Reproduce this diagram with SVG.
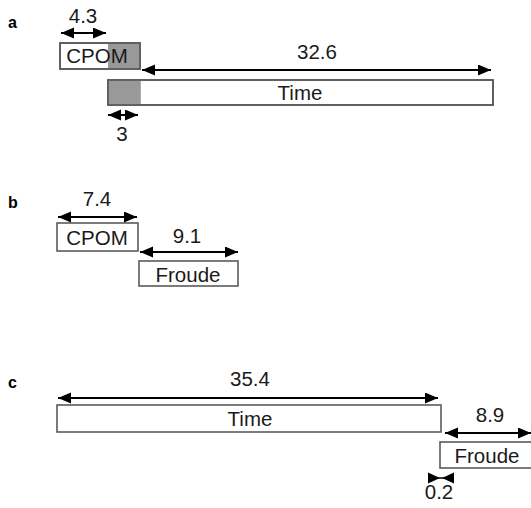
<svg xmlns="http://www.w3.org/2000/svg" width="531" height="508" viewBox="0 0 531 508">
  <style>
    .box { fill: #ffffff; stroke: #5a5a5a; stroke-width: 1.6; }
    .outline { fill: none; stroke: #5a5a5a; stroke-width: 1.6; }
    .shade { fill: #999999; stroke: none; }
    .dim { stroke: #000000; stroke-width: 2; fill: none; marker-start: url(#head); marker-end: url(#head); }
    .lbl { font-family: "Liberation Sans", Arial, sans-serif; font-size: 20.5px; fill: #1a1a1a; text-anchor: middle; }
    .panel { font-family: "Liberation Sans", Arial, sans-serif; font-size: 16px; font-weight: bold; fill: #000000; }
    .tip { fill: #000000; }
  </style>
  <defs>
    <marker id="head" markerUnits="userSpaceOnUse" markerWidth="14" markerHeight="12" refX="13" refY="5.5" orient="auto-start-reverse">
      <path d="M0,0 L13,5.5 L0,11 Z" fill="#000000"/>
    </marker>
  </defs>

  <!-- panel letters -->
  <text class="panel" x="8" y="28">a</text>
  <text class="panel" x="8" y="208">b</text>
  <text class="panel" x="8" y="388">c</text>

  <!-- panel a -->
  <g id="a-cpom">
    <rect class="box" x="60" y="43" width="80" height="26"/>
    <rect class="shade" x="108" y="44" width="31.2" height="24.2"/>
    <rect class="outline" x="60" y="43" width="80" height="26"/>
    <text class="lbl" x="97" y="63">CPOM</text>
  </g>
  <g id="a-time">
    <rect class="box" x="108" y="80" width="385" height="25"/>
    <rect class="shade" x="108.8" y="80.8" width="32" height="23.4"/>
    <rect class="outline" x="108" y="80" width="385" height="25"/>
    <text class="lbl" x="300" y="100">Time</text>
  </g>

  <!-- panel b -->
  <g id="b-cpom">
    <rect class="box" x="57" y="223" width="81" height="28"/>
    <text class="lbl" x="97" y="245">CPOM</text>
  </g>
  <g id="b-froude">
    <rect class="box" x="139" y="261" width="99" height="25"/>
    <text class="lbl" x="188" y="282">Froude</text>
  </g>

  <!-- panel c -->
  <g id="c-time">
    <rect class="box" x="57" y="405" width="384" height="27"/>
    <text class="lbl" x="250" y="426">Time</text>
  </g>
  <g id="c-froude">
    <rect class="box" x="440" y="442" width="93" height="26"/>
    <text class="lbl" x="487" y="463">Froude</text>
  </g>

  <!-- dimension arrows and their values -->
  <g id="connectors">
    <line class="dim" x1="61" y1="33" x2="106" y2="33"/>
    <text class="lbl" x="83" y="23">4.3</text>

    <line class="dim" x1="142" y1="70" x2="491" y2="70"/>
    <text class="lbl" x="317" y="59">32.6</text>

    <line class="dim" x1="108" y1="115" x2="138" y2="115"/>
    <text class="lbl" x="122" y="141">3</text>

    <line class="dim" x1="58" y1="217" x2="137" y2="217"/>
    <text class="lbl" x="97" y="206">7.4</text>

    <line class="dim" x1="140" y1="252" x2="238" y2="252"/>
    <text class="lbl" x="187" y="243">9.1</text>

    <line class="dim" x1="58" y1="398" x2="438" y2="398"/>
    <text class="lbl" x="250" y="386">35.4</text>

    <line class="dim" x1="445" y1="433" x2="531" y2="433"/>
    <text class="lbl" x="490" y="422">8.9</text>

    <path class="tip" d="M428,472.5 L440,478 L428,483.5 Z"/>
    <path class="tip" d="M454,472.5 L442,478 L454,483.5 Z"/>
    <line x1="428" y1="478" x2="454" y2="478" stroke="#000000" stroke-width="1.5"/>
    <text class="lbl" x="439" y="499">0.2</text>
  </g>
</svg>
